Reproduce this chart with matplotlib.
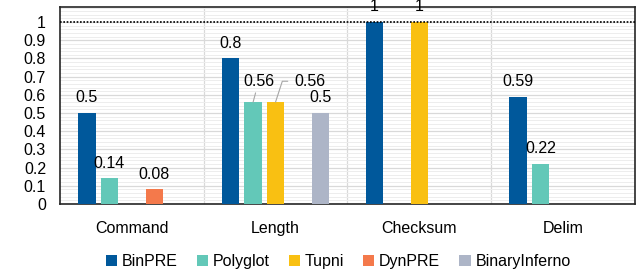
import matplotlib.pyplot as plt
import numpy as np
from matplotlib.ticker import MultipleLocator

plt.rcParams['font.family'] = ['Liberation Sans', 'DejaVu Sans']

categories = ['Command', 'Length', 'Checksum', 'Delim']
tools = ['BinPRE', 'Polyglot', 'Tupni', 'DynPRE', 'BinaryInferno']
colours = ['#00589B', '#63C8B8', '#F9C012', '#F4794B', '#ADB5C7']

binpre = [0.5, 0.8, 1.0, 0.59]
polyglot = [0.14, 0.56, 0, 0.22]
tupni = [0, 0.56, 1.0, 0]
dynpre = [0.08, 0, 0, 0]
binaryinferno = [0, 0.5, 0, 0]
values = [binpre, polyglot, tupni, dynpre, binaryinferno]


def plot():
    fig = plt.figure(figsize=(6.38, 2.69), dpi=100)
    ax = fig.add_axes([0.094, 0.242, 0.901, 0.732])

    x = np.arange(len(categories))
    step = 0.156
    width = 0.12

    for j, (name, vals) in enumerate(zip(tools, values)):
        pos = x + (j - 2) * step
        ax.bar(pos, vals, width, color=colours[j], label=name, zorder=3)
        for i, v in enumerate(vals):
            if v == 0:
                continue
            txt = '{:g}'.format(v)
            # the two 0.56 labels in Length are moved out with leader lines
            if i == 1 and name == 'Polyglot':
                ax.annotate(txt, xy=(pos[i], v), xytext=(4, 15),
                            textcoords='offset points', ha='center', va='center',
                            fontsize=11.5, zorder=5,
                            arrowprops=dict(arrowstyle='-', color='#a6a6a6',
                                            lw=0.8, shrinkA=1, shrinkB=0))
            elif i == 1 and name == 'Tupni':
                ax.annotate(txt, xy=(pos[i], v), xytext=(25, 15),
                            textcoords='offset points', ha='center', va='center',
                            fontsize=11.5, zorder=5,
                            arrowprops=dict(arrowstyle='-', color='#a6a6a6',
                                            lw=0.8, shrinkA=3, shrinkB=0,
                                            connectionstyle='angle,angleA=0,angleB=72,rad=0'))
            else:
                ax.annotate(txt, xy=(pos[i], v), xytext=(0, 11),
                            textcoords='offset points', ha='center', va='center',
                            fontsize=11.5, zorder=5)

    ax.axhline(1.0, color='black', ls=(0, (1, 1)), lw=1.2, zorder=4)

    ax.set_xlim(-0.5, 3.5)
    ax.set_ylim(0, 1.083)
    ax.yaxis.set_major_locator(MultipleLocator(0.1))
    ax.yaxis.set_minor_locator(MultipleLocator(0.02))
    ax.set_yticks(np.arange(0, 1.01, 0.1))
    ax.set_yticklabels(['{:g}'.format(round(t, 1)) for t in np.arange(0, 1.01, 0.1)])
    ax.grid(axis='y', which='major', color='#d9d9d9', lw=0.9, zorder=0)
    ax.grid(axis='y', which='minor', color='#ededed', lw=0.7, zorder=0)
    for b in [0.5, 1.5, 2.5]:
        ax.axvline(b, color='#d9d9d9', lw=0.9, zorder=1)

    ax.set_xticks(x)
    ax.set_xticklabels(categories)
    ax.tick_params(axis='both', which='both', length=0, labelsize=11.5)
    ax.tick_params(axis='x', pad=12)
    ax.tick_params(axis='y', pad=10)
    for s in ax.spines.values():
        s.set_color('#262626')
        s.set_linewidth(1.2)

    fig.legend(loc='lower center', bbox_to_anchor=(0.53, -0.055), ncol=5,
               frameon=False, fontsize=11.5, handlelength=0.7, handleheight=0.7,
               handletextpad=0.3, columnspacing=1.2)

    plt.savefig('out.png', dpi=100)
    plt.close()


if __name__ == "__main__":
    plot()
